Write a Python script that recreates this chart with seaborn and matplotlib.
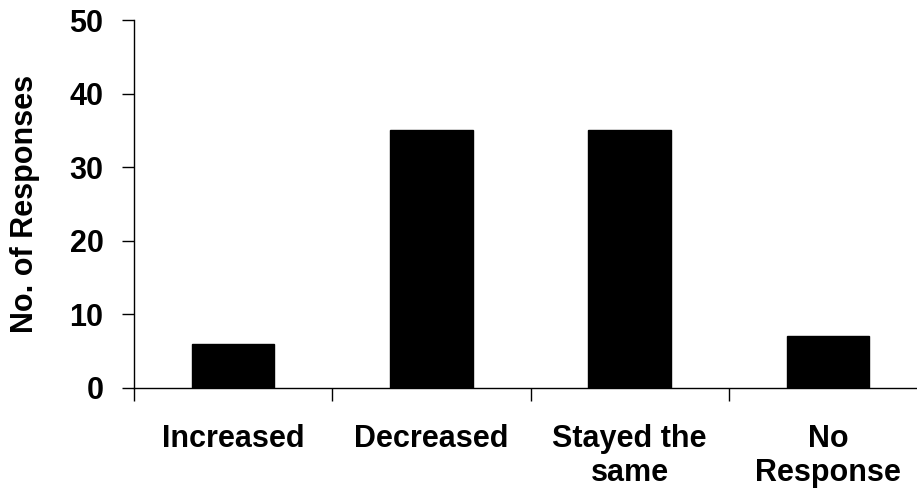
import numpy as np
import pandas as pd
import seaborn as sns
import matplotlib
matplotlib.use("Agg")
import matplotlib.pyplot as plt

sns.set_style("white")
plt.rcParams['font.family'] = ['Liberation Sans', 'DejaVu Sans']
plt.rcParams['text.color'] = 'black'
plt.rcParams['axes.labelcolor'] = 'black'
plt.rcParams['xtick.color'] = 'black'
plt.rcParams['ytick.color'] = 'black'

# data
categories = ["Increased", "Decreased", "Stayed the\nsame", "No\nResponse"]
responses = [6, 35, 35, 7]
y_ticks = [0, 10, 20, 30, 40, 50]

df = pd.DataFrame({"cat": categories, "n": responses})

FS = 22

fig = plt.figure(figsize=(9.17, 4.91), dpi=100)
ax = fig.add_axes([134 / 917, 103.3 / 491, 793 / 917, 367.7 / 491])

sns.barplot(data=df, x="cat", y="n", color="black", saturation=1,
            width=0.415, ax=ax)
for p in ax.patches:
    p.set_edgecolor("black")

ax.set_xlim(-0.5, len(categories) - 0.5)
ax.set_ylim(0, 50)
ax.set_yticks(y_ticks)

# major ticks between categories, labels on minor ticks at the centres
ax.set_xticks(np.arange(-0.5, len(categories), 1.0))
ax.set_xticklabels([])
ax.set_xticks(np.arange(len(categories)), minor=True)
ax.set_xticklabels(categories, minor=True, fontsize=FS, fontweight="bold",
                   linespacing=1.18)
ax.tick_params(axis="x", which="minor", length=0, pad=26)
ax.tick_params(axis="x", which="major", direction="out", length=9,
               width=1, color="black", bottom=True)
ax.tick_params(axis="y", direction="out", length=9, width=1,
               color="black", left=True, pad=13)
for lab in ax.get_yticklabels():
    lab.set_fontsize(FS)
    lab.set_fontweight("bold")

ax.set_xlabel("")
ax.set_ylabel("No. of Responses", fontsize=FS, fontweight="bold")
ax.yaxis.set_label_coords(-(134 - 40) / 793, 0.5)

sns.despine(ax=ax)
ax.spines["left"].set_color("black")
ax.spines["bottom"].set_color("black")
ax.spines["left"].set_linewidth(1)
ax.spines["bottom"].set_linewidth(1)

fig.savefig("out.png", dpi=100)
